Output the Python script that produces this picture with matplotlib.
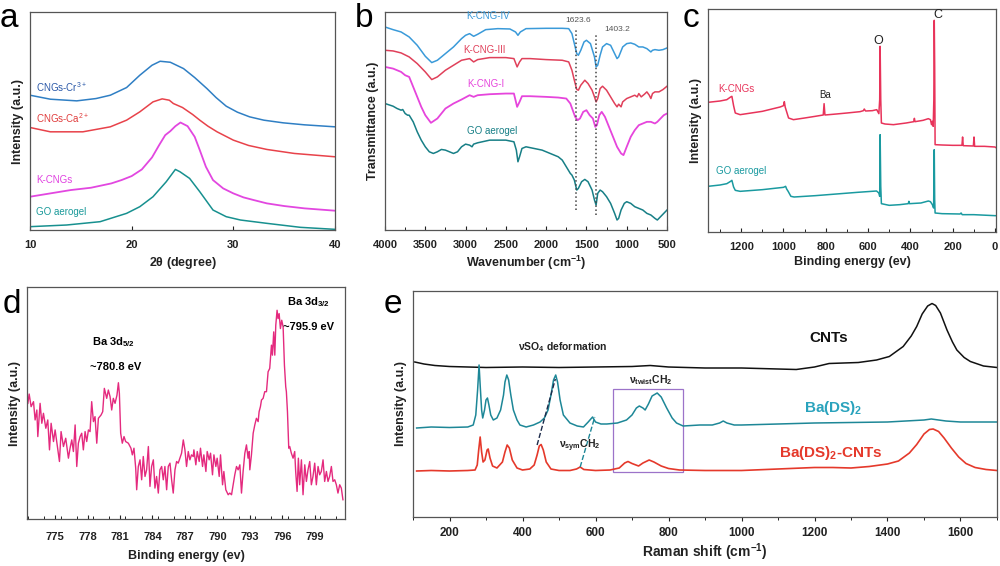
import matplotlib
matplotlib.use("Agg")
import matplotlib.pyplot as plt
from matplotlib.patches import Rectangle
from matplotlib.ticker import MultipleLocator

plt.rcParams['font.family'] = ['Liberation Sans', 'DejaVu Sans']
plt.rcParams['mathtext.fontset'] = 'custom'
plt.rcParams['mathtext.rm'] = 'Liberation Sans'
plt.rcParams['mathtext.it'] = 'Liberation Sans:italic'
plt.rcParams['mathtext.bf'] = 'Liberation Sans:bold'

# ---------------- panel a : XRD ----------------
a_blue_x = [10, 12, 14.6, 16.5, 17.9, 19.5, 20.8, 22, 22.8, 23.8, 25.1, 26.2, 27.4, 28.3, 29.3, 30.4, 31.6, 33, 34.9, 37, 40]
a_blue_y = [405, 393, 388, 395, 405, 428, 465, 495, 507, 504, 485, 458, 425, 398, 372, 354, 340, 330, 322, 316, 310]
a_red_x = [10, 12, 15.2, 17.9, 19.5, 20.8, 22.1, 23, 23.7, 24.1, 25, 26, 26.7, 27.5, 28.4, 30, 31.5, 33.3, 36, 40]
a_red_y = [308, 295, 295, 310, 330, 355, 385, 394, 390, 380, 368, 347, 330, 312, 295, 270, 254, 242, 230, 220]
a_mag_x = [10, 12, 14, 16, 18, 19, 20, 21, 22, 22.7, 23.3, 23.8, 24.3, 24.8, 25.5, 26.2, 26.7, 27.3, 28, 29, 30, 31, 32, 33.3, 35, 37, 40]
a_mag_y = [100, 110, 120, 127, 140, 150, 162, 182, 218, 255, 285, 297, 312, 323, 312, 280, 240, 190, 150, 125, 110, 98, 90, 80, 72, 65, 58]
a_teal_x = [10, 13.6, 16.9, 19.5, 20.8, 22.1, 23.4, 24.3, 24.75, 25.7, 26.7, 28, 29.3, 30.7, 33.3, 36.6, 40]
a_teal_y = [10, 15, 25, 50, 70, 100, 145, 182, 175, 155, 115, 60, 40, 30, 20, 8, 2]
a_labels = ['CNGs-Cr$^{3+}$', 'CNGs-Ca$^{2+}$', 'K-CNGs', 'GO aerogel']
a_ticks = [10, 20, 30, 40]

# ---------------- panel b : FTIR ----------------
b_blue_x = [4000,3900,3800,3700,3600,3500,3420,3350,3250,3150,3050,3000,2950,2900,2850,2750,2600,2450,2380,2350,2320,2250,2000,1800,1720,1680,1650,1620,1600,1570,1530,1500,1450,1400,1380,1360,1330,1300,1250,1200,1150,1120,1100,1050,1000,950,900,850,800,750,700,680,650,600,550,500]
b_blue_y = [610,602,595,580,555,522,503,510,530,550,575,585,590,582,588,602,605,604,595,585,595,605,606,606,605,590,560,530,525,540,565,570,560,520,490,495,525,550,560,555,530,515,520,550,560,562,558,550,550,545,535,540,542,540,542,547]
b_red_x = [4000,3900,3800,3700,3600,3500,3420,3350,3250,3150,3050,2950,2900,2850,2700,2500,2400,2360,2330,2300,2200,2000,1800,1720,1680,1650,1620,1600,1570,1520,1480,1430,1400,1380,1360,1330,1300,1250,1200,1150,1120,1100,1070,1050,1000,950,900,870,850,820,780,750,720,700,680,650,600,550,500]
b_red_y = [540,538,532,520,500,475,452,460,480,495,510,515,505,512,518,518,515,490,505,515,515,512,510,505,480,450,422,420,435,450,440,420,400,385,395,425,432,420,400,380,370,378,370,385,395,400,405,400,410,400,408,415,405,395,410,415,415,422,432]
b_mag_x = [4000,3900,3850,3800,3750,3700,3650,3600,3550,3500,3430,3350,3250,3150,3050,2950,2900,2850,2700,2500,2400,2360,2330,2300,2200,2000,1850,1750,1700,1670,1640,1610,1580,1540,1500,1460,1420,1390,1370,1340,1310,1270,1220,1170,1120,1070,1040,1000,950,900,850,800,750,700,650,620,580,540,500]
b_mag_y = [490,485,480,475,465,460,430,400,370,345,322,335,365,380,392,405,400,405,408,410,410,370,385,402,402,400,398,395,380,360,340,330,335,355,360,345,335,310,315,345,355,340,310,280,250,230,225,250,280,300,315,320,325,325,320,325,335,345,350]
b_teal_x = [4000,3900,3850,3800,3780,3750,3720,3700,3650,3600,3550,3500,3450,3400,3350,3300,3250,3200,3150,3100,3050,3000,2950,2920,2900,2850,2700,2500,2400,2370,2350,2330,2300,2250,2150,2050,1950,1850,1800,1750,1700,1680,1650,1620,1600,1560,1520,1480,1430,1400,1380,1360,1330,1300,1250,1200,1150,1120,1100,1070,1030,1000,950,900,850,800,750,700,650,620,580,540,500]
b_teal_y = [380,372,365,360,362,350,345,345,325,295,270,250,235,230,235,242,240,235,230,235,250,258,255,250,258,262,270,270,265,240,205,220,245,250,245,240,230,220,210,190,170,165,150,120,125,145,152,145,120,90,75,110,120,115,100,80,50,30,35,60,80,85,80,70,65,60,50,45,35,30,40,50,60]
b_labels = ['K-CNG-IV', 'K-CNG-III', 'K-CNG-I', 'GO aerogel']
b_marks = [1626, 1385]
b_mark_labels = ['1623.6', '1403.2']
b_ticks = [4000, 3500, 3000, 2500, 2000, 1500, 1000, 500]

# ---------------- panel c : XPS survey ----------------
c_pink_x = [1357,1300,1268,1250,1244,1236,1228,1205,1100,1016,1000,996,992,976,953,900,850,812,808,804,750,700,638,622,618,612,580,559,549,545,543,540,537,520,480,420,384,381,378,340,315,305,300,296,292,289,287,285,283,250,200,156,153,150,102,99,96,50,0,-5]
c_pink_y = [389,393,397,405,407,379,357,352,362,375,379,391,375,342,337,342,347,351,385,351,354,357,361,364,369,363,364,367,355,397,557,397,327,324,322,327,331,341,331,335,340,337,322,332,317,397,635,497,262,261,260,260,285,259,258,285,257,257,255,253]
c_teal_x = [1357,1300,1268,1250,1244,1236,1228,1205,1100,1000,990,985,978,965,950,850,750,650,560,549,545,543,540,537,500,450,410,407,404,350,315,305,296,290,287,285,283,250,165,160,155,100,0,-5]
c_teal_y = [137,141,145,152,155,135,125,122,127,134,137,129,122,107,105,109,114,119,123,117,107,292,137,85,80,82,85,92,85,87,93,91,82,72,247,97,57,55,54,57,52,52,49,49]
c_labels = ['K-CNGs', 'GO aerogel']
c_ticks = [1200, 1000, 800, 600, 400, 200, 0]

# ---------------- panel d : Ba 3d ----------------
d_x = [772.48,772.60,772.78,773.00,773.15,773.31,773.40,773.61,773.77,773.92,
       774.14,774.32,774.48,774.63,774.85,775.00,775.21,775.40,775.55,775.77,
       775.98,776.23,776.38,776.54,776.69,776.85,777.00,777.15,777.31,777.46,
       777.61,777.77,777.92,778.08,778.23,778.38,778.54,778.69,778.85,779.00,
       779.25,779.40,779.55,779.77,779.92,780.08,780.23,780.38,780.54,780.72,
       780.85,780.94,781.06,781.21,781.37,781.52,781.77,782.01,782.14,782.29,
       782.45,782.54,782.69,782.85,783.00,783.15,783.31,783.46,783.62,783.77,
       783.92,784.08,784.23,784.38,784.54,784.69,784.85,785.00,785.15,785.31,
       785.46,785.62,785.77,785.92,786.08,786.23,786.38,786.54,786.69,786.85,
       787.00,787.15,787.31,787.46,787.61,787.77,
       787.83,788.01,788.14,788.32,788.44,788.63,788.75,788.94,789.06,789.24,
       789.37,789.55,789.68,789.86,789.98,790.17,790.29,790.48,790.60,790.78,
       791.00,791.15,791.31,791.46,791.61,791.77,791.92,792.08,792.23,792.38,
       792.54,792.69,792.84,792.94,793.00,793.15,793.31,793.46,793.61,793.77,
       793.86,793.98,794.08,794.23,794.38,794.54,794.69,794.84,795.00,795.09,
       795.21,795.31,795.40,795.52,795.61,795.71,795.83,795.95,796.08,796.20,
       796.32,796.38,796.48,796.60,796.69,796.84,797.00,797.15,797.24,797.37,
       797.49,797.61,797.77,797.92,798.08,798.23,798.38,798.54,798.69,798.84,
       799.00,799.15,799.31,799.46,799.61,799.77,799.92,800.08,800.23,800.38,
       800.54,800.69,800.85,801.00,801.15,801.31,801.46,801.61]
d_y = [348,376,338,353,298,328,248,348,288,318,
       273,298,208,288,233,268,218,173,263,218,
       243,183,213,238,203,283,158,228,248,258,
       208,263,233,268,263,353,293,308,228,303,
       313,323,393,363,388,368,328,363,348,373,
       410,378,258,228,248,233,228,213,193,213,
       153,88,158,178,118,188,128,148,218,98,
       158,178,93,128,78,148,158,118,158,88,
       158,168,118,78,148,173,168,183,198,238,
       208,158,203,178,193,188,
       208,163,203,173,213,158,193,143,203,178,
       198,133,193,158,183,128,193,103,143,88,
       73,78,73,103,133,158,148,163,78,143,
       198,223,183,203,148,193,258,283,303,293,
       323,338,358,363,383,383,443,453,523,493,
       563,493,583,628,603,618,573,598,578,463,
       398,383,323,213,218,198,183,203,143,83,
       183,103,178,73,163,113,148,173,103,128,
       168,103,158,133,143,178,113,143,113,128,
       158,113,118,103,78,103,93,58]
d_ticks = [775, 778, 781, 784, 787, 790, 793, 796, 799]

# ---------------- panel e : Raman ----------------
e_cnt_x = [105,130,160,200,250,300,400,500,600,700,750,800,900,1000,1100,1150,1200,1240,1280,1320,1370,1405,1443,1465,1480,1495,1510,1522,1532,1545,1563,1578,1590,1610,1627,1663,1700]
e_cnt_y = [155,153,151.5,150.5,150,149.5,150,149.5,150,150.5,151.5,150,149,149,148,147.5,150,153.5,154,154.5,157,160.5,170.5,181,190.5,203,211,213.5,211.5,204,187,175,167,159.5,155.5,151,149.5]
e_ba_x = [110,150,200,250,265,272,277,281,284,288,291,296,300,304,308,313,320,330,340,348,352,357,362,368,375,385,393,410,430,448,460,470,478,485,491,496,503,512,530,550,567,580,592,600,615,631,660,685,700,712,720,730,736,745,755,769,780,795,810,822,840,886,920,940,950,960,980,1000,1200,1400,1500,1520,1560,1600,1700]
e_ba_y = [89,90,89.5,90,92,102,127,152,132,107,99,107,117,119,112,102,97,99,107,122,135,142,137,122,107,97,92,90,92,95,99,107,122,137,142,135,117,102,94,91,90,95,100,95,93,93,94,97,102,109,111,109,107,113,121,124,120,109,99,94,91,92,92,94,96,94,92,92,94,95,97,98,96,95,95]
e_bacnt_x = [110,150,200,250,270,276,280,284,288,292,297,303,306,311,318,330,345,352,358,364,372,385,400,420,432,440,446,451,457,465,478,500,530,548,558,568,600,640,665,680,689,700,718,730,747,760,780,800,830,900,1000,1100,1200,1250,1300,1350,1400,1430,1460,1480,1500,1515,1525,1540,1555,1575,1595,1615,1640,1670,1700]
e_bacnt_y = [46,46.5,46,46.5,47,52,67,80,65,55,57,67,68,59,51,49,55,65,72,69,57,49,47,48,52,62,71,72.5,67,55,48,46.5,46.5,48,50,47.5,46.5,47,49,54,55.5,53.5,51,54,57,55,51,48.5,47,46.5,46.5,48,49.5,49.5,49,50.5,53,56,64,72.5,83,87.5,88,85.5,79,69,60,53.5,49.5,47.5,46.5]
e_labels = ['CNTs', 'Ba(DS)$_\\mathbf{2}$', 'Ba(DS)$_\\mathbf{2}$-CNTs']
e_ticks = [200, 400, 600, 800, 1000, 1200, 1400, 1600]

# ======================================================
W, H = 1000, 566
fig = plt.figure(figsize=(W / 100, H / 100), dpi=100)
fig.patch.set_facecolor('white')


def axes_px(left, top, right, bottom):
    return fig.add_axes([left / W, (H - bottom) / H, (right - left) / W, (bottom - top) / H])


def style(ax, ticks, direction='in', minor=None, fs=8, pad=7):
    ax.set_yticks([])
    ax.set_xticks(ticks)
    if minor:
        ax.xaxis.set_minor_locator(MultipleLocator(minor))
    ax.tick_params(axis='x', direction=direction, length=3, width=0.8, pad=pad,
                   labelsize=fs, colors='#222222')
    ax.tick_params(axis='x', which='minor', direction=direction, length=2, width=0.6)
    for t in ax.get_xticklabels():
        t.set_fontweight('bold')
    for s in ax.spines.values():
        s.set_color('#555555')
        s.set_linewidth(0.9)


lab = dict(fontsize=9, fontweight='bold', color='#222222')

# ---- a
ax = axes_px(30, 12, 335, 230)
ax.plot(a_blue_x, a_blue_y, color='#2f7fc4', lw=1.1)
ax.plot(a_red_x, a_red_y, color='#e8424a', lw=1.1)
ax.plot(a_mag_x, a_mag_y, color='#e247e0', lw=1.3)
ax.plot(a_teal_x, a_teal_y, color='#17908f', lw=1.1)
ax.set_xlim(10, 40)
ax.set_ylim(0, 655)
style(ax, a_ticks)
ax.set_xlabel('2$\\mathbf{\\theta}$ (degree)', labelpad=4, **lab)
ax.set_ylabel('Intensity (a.u.)', labelpad=4, **lab)
for txt, yy, col in zip(a_labels, [430, 335, 150, 55], ['#2a58a8', '#e03c3c', '#e040e0', '#1a9a9a']):
    ax.text(10.6, yy, txt, color=col, fontsize=7, va='center', ha='left')
fig.text(0.0, 0.995, 'a', fontsize=24, va='top', ha='left')

# ---- b
ax = axes_px(385, 12, 667, 230)
ax.plot(b_blue_x, b_blue_y, color='#3a9ad9', lw=1.1)
ax.plot(b_red_x, b_red_y, color='#e0405a', lw=1.1)
ax.plot(b_mag_x, b_mag_y, color='#e645dc', lw=1.3)
ax.plot(b_teal_x, b_teal_y, color='#177f86', lw=1.1)
ax.vlines(b_marks[0], 60, 605, colors='#444444', linestyles=':', lw=1.1)
ax.vlines(b_marks[1], 45, 590, colors='#444444', linestyles=':', lw=1.1)
ax.text(1597, 628, b_mark_labels[0], fontsize=6, color='#555555', ha='center', va='center')
ax.text(1113, 602, b_mark_labels[1], fontsize=6, color='#555555', ha='center', va='center')
for txt, xx, yy, col in zip(b_labels, [2716, 2770, 2745, 2674], [642, 540, 440, 297],
                            ['#3a9ad9', '#e0405a', '#e645dc', '#177f86']):
    ax.text(xx, yy, txt, color=col, fontsize=7, ha='center', va='center')
ax.set_xlim(4000, 500)
ax.set_ylim(0, 655)
style(ax, b_ticks, minor=250)
ax.set_xlabel('Wavenumber (cm$^{\\mathbf{-1}}$)', labelpad=3, **lab)
ax.set_ylabel('Transmittance (a.u.)', labelpad=4, **lab)
fig.text(0.355, 0.995, 'b', fontsize=24, va='top', ha='left')

# ---- c
ax = axes_px(708, 9, 996, 232)
ax.plot(c_pink_x, c_pink_y, color='#e8335a', lw=1.1)
ax.plot(c_teal_x, c_teal_y, color='#1a9aa0', lw=1.1)
ax.text(1224, 429, c_labels[0], color='#e8335a', fontsize=7, ha='center', va='center')
ax.text(1200, 182, c_labels[1], color='#1a9aa0', fontsize=7, ha='center', va='center')
ax.text(803, 412, 'Ba', color='#222222', fontsize=7, ha='center', va='center')
ax.text(551, 574, 'O', color='#222222', fontsize=9, ha='center', va='center')
ax.text(268, 652, 'C', color='#222222', fontsize=9, ha='center', va='center')
ax.set_xlim(1357, -5)
ax.set_ylim(0, 669)
style(ax, c_ticks, minor=100)
ax.set_xlabel('Binding energy (ev)', labelpad=3, **lab)
ax.set_ylabel('Intensity (a.u.)', labelpad=4, **lab)
fig.text(0.683, 0.995, 'c', fontsize=24, va='top', ha='left')

# ---- d
ax = axes_px(27, 287, 345, 519)
ax.plot(d_x, d_y, color='#e42a7e', lw=1.0)
ax.text(778.4, 533, 'Ba 3d$_{\\mathbf{5/2}}$', fontsize=8, fontweight='bold', ha='left', va='center')
ax.text(778.2, 456, '~780.8 eV', fontsize=8, fontweight='bold', ha='left', va='center')
ax.text(796.4, 653, 'Ba 3d$_{\\mathbf{3/2}}$', fontsize=8, fontweight='bold', ha='left', va='center')
ax.text(796.1, 578, '~795.9 eV', fontsize=8, fontweight='bold', ha='left', va='center')
ax.set_xlim(772.4, 801.8)
ax.set_ylim(0, 698)
style(ax, d_ticks, minor=1.5, pad=9)
ax.set_xlabel('Binding energy (ev)', labelpad=6, **lab)
ax.set_ylabel('Intensity (a.u.)', labelpad=4, **lab)
fig.text(0.003, 0.49, 'd', fontsize=24, va='top', ha='left')

# ---- e
ax = axes_px(413, 291, 997, 517)
ax.plot(e_cnt_x, e_cnt_y, color='#111111', lw=1.1)
ax.plot(e_ba_x, e_ba_y, color='#1d8797', lw=1.1)
ax.plot(e_bacnt_x, e_bacnt_y, color='#e5392b', lw=1.2)
ax.add_patch(Rectangle((649, 45), 190, 83, fill=False, edgecolor='#9c73c9', lw=0.9))
ax.plot([440, 490], [72, 138], color='#1b2a4a', ls='--', lw=1.0)
ax.plot([558, 598], [50, 100], color='#1d8797', ls='--', lw=1.0)
ax.text(510, 170, '$\\mathbf{\\nu}$SO$_\\mathbf{4}$ deformation', fontsize=7.5, fontweight='bold',
        color='#222222', ha='center', va='center')
ax.text(752, 137, '$\\mathbf{\\nu_{twist}}$CH$_\\mathbf{2}$', fontsize=7.5, fontweight='bold',
        color='#222222', ha='center', va='center')
ax.text(558, 71, '$\\mathbf{\\nu_{sym}}$CH$_\\mathbf{2}$', fontsize=7.5, fontweight='bold',
        color='#222222', ha='center', va='center')
ax.text(1240, 179, e_labels[0], fontsize=11, fontweight='bold', color='#111111', ha='center', va='center')
ax.text(1252, 109, e_labels[1], fontsize=11, fontweight='bold', color='#2aa3bd', ha='center', va='center')
ax.text(1245, 64, e_labels[2], fontsize=11, fontweight='bold', color='#e5392b', ha='center', va='center')
ax.set_xlim(100, 1700)
ax.set_ylim(0, 226)
style(ax, e_ticks, direction='out', minor=100, fs=8.5, pad=4)
ax.set_xlabel('Raman shift (cm$^{\\mathbf{-1}}$)', labelpad=2, fontsize=10, fontweight='bold', color='#222222')
ax.set_ylabel('Intensity (a.u.)', labelpad=4, **lab)
fig.text(0.384, 0.49, 'e', fontsize=24, va='top', ha='left')

fig.savefig('out.png', dpi=100, facecolor='white')
